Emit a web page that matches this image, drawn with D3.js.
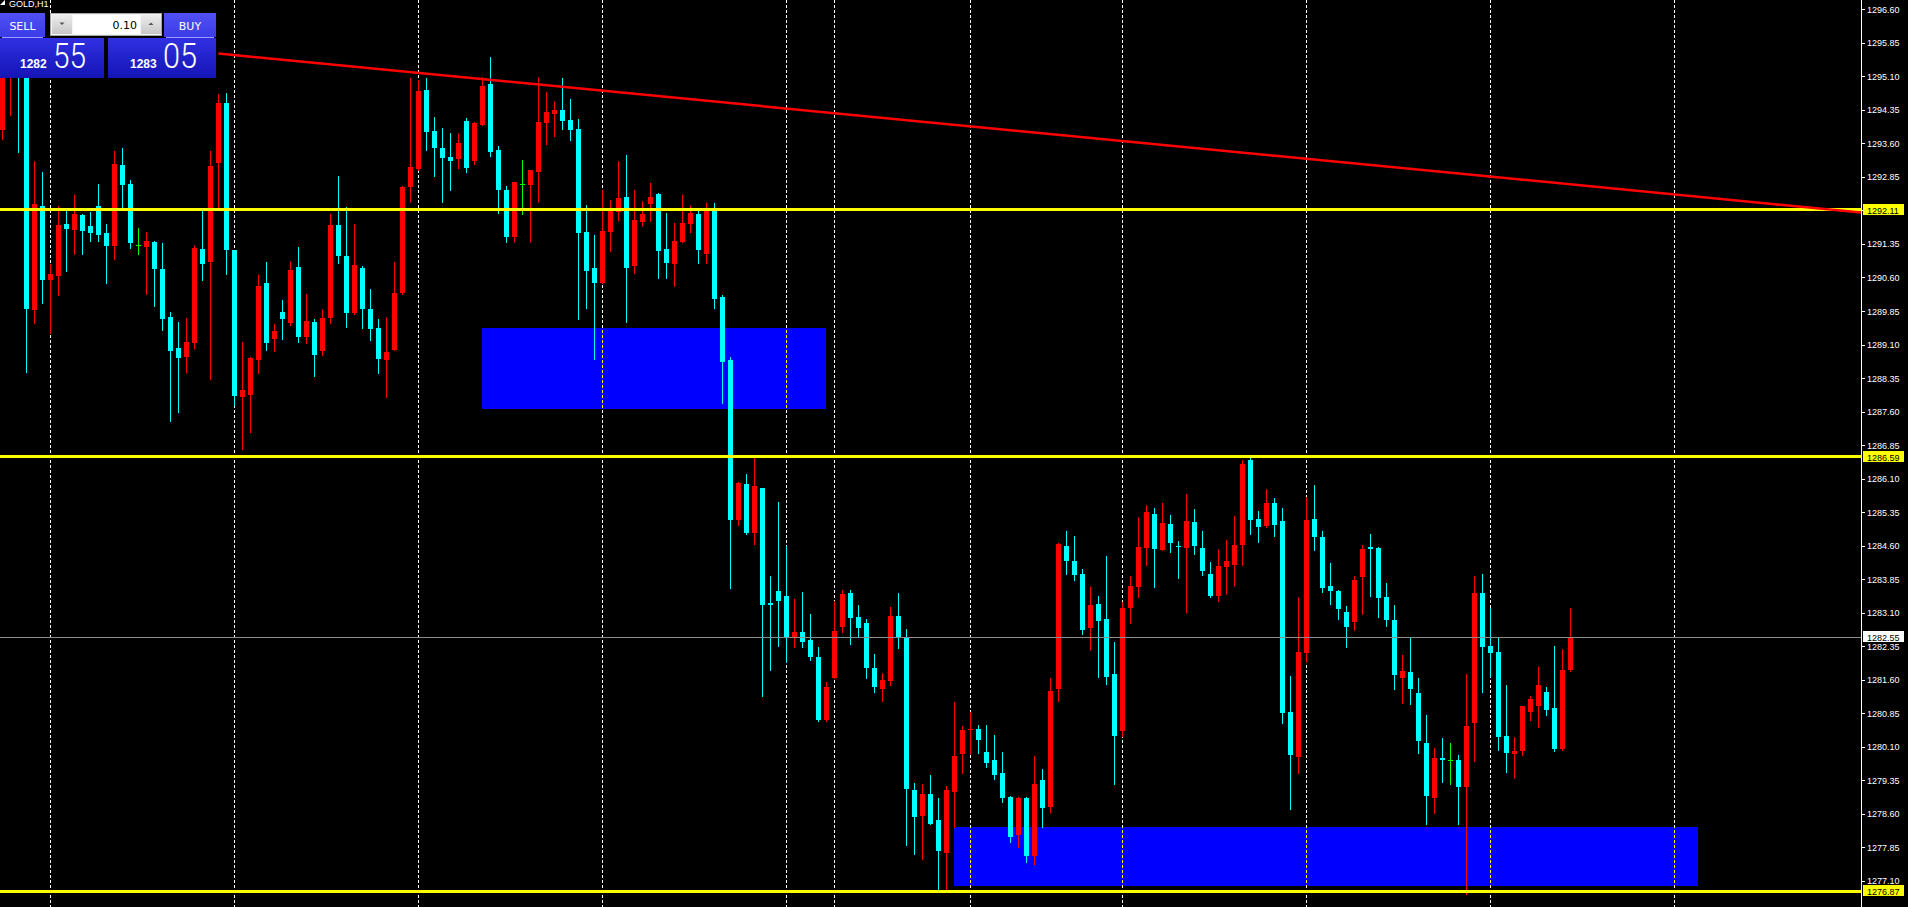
<!DOCTYPE html>
<html>
<head>
<meta charset="utf-8">
<script src="https://cdn.jsdelivr.net/npm/d3@7"></script>
<style>
html,body{margin:0;padding:0;background:#000;overflow:hidden}
svg{display:block}
</style>
</head>
<body>
<svg id="chart" width="1908" height="907"></svg>
<script>
// GOLD H1 bars, oldest first
const opens = [
1293.90,1295.11,1295.33,1295.24,1289.87,1292.20,1290.55,1290.64,1291.80,1291.66,
1292.00,1291.75,1292.20,1291.60,1291.31,1293.12,1292.69,1291.33,1291.28,1291.40,
1290.79,1289.72,1289.03,1288.82,1289.14,1291.24,1290.95,1293.16,1294.51,1291.22,
1287.93,1287.97,1288.76,1290.48,1289.23,1289.83,1289.58,1290.84,1289.27,1289.61,
1288.96,1289.70,1291.78,1291.08,1289.81,1290.82,1289.90,1289.47,1288.76,1288.98,
1290.26,1292.63,1293.03,1294.80,1293.88,1293.50,1293.30,1293.25,1294.10,1293.21,
1294.01,1294.93,1293.45,1292.56,1291.51,1292.69,1292.67,1292.96,1294.06,1294.26,
1294.35,1294.12,1293.92,1291.62,1290.82,1290.48,1291.62,1292.07,1292.40,1290.86,
1291.84,1292.25,1292.47,1291.24,1290.90,1291.40,1291.80,1292.02,1291.13,1292.09,
1290.17,1288.76,1285.18,1285.98,1284.89,1285.89,1283.32,1283.59,1283.48,1282.56,
1282.67,1282.49,1282.11,1280.70,1281.64,1282.78,1283.54,1283.01,1282.87,1281.87,
1281.40,1281.58,1283.03,1282.56,1279.14,1278.55,1279.05,1278.47,1277.73,1279.09,
1279.94,1280.48,1280.50,1279.98,1279.81,1279.52,1278.98,1278.13,1278.96,1277.66,
1279.36,1278.75,1281.40,1284.60,1284.26,1283.97,1282.76,1283.30,1282.96,1281.73,
1280.46,1283.21,1283.68,1284.55,1285.31,1284.51,1285.09,1284.60,1284.55,1285.13,
1284.55,1283.97,1283.48,1284.12,1284.17,1284.62,1286.52,1285.20,1285.04,1285.56,
1285.16,1280.88,1279.87,1282.20,1285.20,1284.80,1283.70,1283.59,1283.12,1282.89,
1283.90,1284.57,1284.55,1283.45,1282.94,1281.64,1281.78,1281.31,1280.19,1278.96,
1279.85,1279.81,1279.81,1279.20,1280.63,1283.54,1282.36,1282.22,1280.34,1279.94,
1280.01,1280.88,1281.02,1281.33,1280.97,1280.05,1281.82
];
const highs = [
1295.36,1295.42,1295.47,1295.38,1293.21,1292.96,1290.90,1292.20,1292.09,1292.45,
1292.02,1292.07,1292.69,1291.80,1293.43,1293.50,1292.78,1291.71,1291.62,1291.42,
1291.37,1289.83,1289.61,1289.70,1291.33,1292.09,1293.43,1294.71,1294.73,1291.22,
1289.16,1288.82,1290.66,1290.95,1289.56,1290.10,1290.97,1291.28,1290.23,1289.67,
1289.90,1292.02,1292.87,1292.18,1291.80,1290.86,1290.35,1289.67,1289.72,1290.95,
1292.65,1295.07,1295.02,1295.07,1294.19,1293.95,1293.83,1293.83,1294.17,1294.08,
1295.09,1295.54,1293.54,1292.65,1292.74,1293.23,1293.01,1295.09,1294.75,1294.55,
1295.07,1294.60,1294.15,1292.22,1291.55,1292.56,1292.34,1293.21,1293.34,1292.56,
1292.31,1292.72,1292.49,1292.05,1291.82,1292.45,1292.22,1292.09,1292.27,1292.27,
1290.21,1288.82,1286.03,1286.21,1286.56,1285.89,1283.92,1285.58,1284.60,1283.41,
1283.57,1283.07,1282.34,1281.55,1283.36,1283.61,1283.61,1283.28,1282.96,1282.18,
1281.75,1283.23,1283.54,1282.74,1279.29,1279.27,1279.47,1278.96,1279.23,1281.11,
1280.57,1280.88,1280.59,1280.59,1280.37,1279.98,1279.00,1278.98,1278.98,1279.90,
1279.60,1281.64,1284.66,1284.93,1284.82,1284.08,1283.68,1283.48,1284.37,1282.45,
1283.34,1283.92,1285.24,1285.51,1285.45,1285.56,1285.29,1284.71,1285.76,1285.42,
1284.93,1284.24,1284.53,1284.73,1285.27,1286.52,1286.56,1285.38,1285.87,1285.67,
1285.45,1281.69,1283.45,1285.69,1285.96,1284.93,1284.21,1283.61,1283.25,1283.92,
1284.62,1284.86,1284.57,1283.77,1283.28,1282.16,1282.54,1281.64,1280.81,1280.08,
1280.30,1280.19,1279.92,1281.73,1283.92,1283.97,1283.21,1282.56,1281.49,1280.32,
1281.02,1281.24,1281.89,1281.44,1282.36,1282.29,1283.21
];
const lows = [
1293.70,1294.24,1293.41,1288.49,1289.58,1290.03,1289.36,1290.21,1290.75,1291.13,
1291.13,1291.42,1291.42,1290.48,1291.02,1292.11,1291.26,1291.13,1290.23,1289.96,
1289.43,1287.39,1287.59,1288.49,1289.03,1290.55,1288.33,1292.18,1290.68,1287.75,
1286.77,1287.15,1288.47,1288.98,1288.96,1289.23,1289.54,1289.16,1289.14,1288.40,
1288.87,1289.58,1290.93,1289.50,1289.79,1289.47,1289.20,1288.47,1287.93,1288.98,
1290.23,1292.29,1293.01,1293.45,1292.87,1292.29,1292.56,1293.05,1292.96,1293.14,
1294.01,1293.32,1292.05,1291.40,1291.40,1292.02,1291.40,1292.29,1293.59,1293.77,
1293.92,1293.68,1289.67,1289.92,1288.78,1290.48,1291.20,1291.89,1289.61,1290.70,
1291.75,1291.87,1290.59,1290.59,1290.41,1291.40,1291.62,1290.93,1290.93,1289.92,
1287.80,1283.66,1285.07,1284.86,1284.64,1281.24,1281.82,1282.36,1282.00,1282.34,
1282.34,1282.05,1280.68,1280.68,1281.64,1282.67,1282.40,1282.56,1281.64,1281.33,
1281.13,1281.49,1282.31,1277.91,1277.71,1277.59,1278.38,1276.90,1276.90,1278.31,
1279.52,1279.94,1279.96,1279.65,1279.38,1278.87,1277.97,1277.86,1277.53,1277.48,
1278.31,1278.64,1281.13,1283.97,1283.83,1282.63,1282.27,1281.66,1281.51,1279.27,
1280.34,1282.87,1283.45,1284.17,1283.68,1284.51,1284.46,1283.88,1283.12,1284.42,
1283.95,1283.45,1283.36,1283.52,1283.70,1284.17,1284.86,1284.68,1285.02,1284.82,
1280.63,1278.71,1279.52,1282.00,1284.51,1283.57,1283.30,1282.96,1282.34,1282.72,
1283.07,1283.48,1283.01,1282.81,1281.40,1281.08,1281.06,1279.96,1278.38,1278.62,
1279.31,1279.27,1278.38,1276.81,1279.79,1281.33,1281.69,1280.03,1279.54,1279.40,
1279.92,1280.70,1280.55,1280.81,1280.01,1280.03,1281.80
];
const closes = [
1295.20,1295.29,1295.11,1289.90,1292.25,1290.55,1290.68,1291.78,1291.69,1292.02,
1291.64,1291.60,1291.55,1291.31,1293.14,1292.67,1291.37,1291.33,1291.42,1290.79,
1289.67,1288.96,1288.80,1289.16,1291.26,1290.90,1293.10,1294.51,1291.22,1287.95,
1288.09,1288.80,1290.41,1289.14,1289.41,1289.67,1290.77,1289.27,1289.63,1288.87,
1289.70,1291.78,1291.08,1289.81,1290.88,1289.90,1289.45,1288.78,1288.94,1290.26,
1292.63,1293.07,1294.77,1293.86,1293.50,1293.27,1293.21,1293.61,1293.05,1294.06,
1294.89,1293.41,1292.56,1291.51,1292.74,1292.69,1293.01,1294.08,1294.30,1294.35,
1294.10,1293.90,1291.60,1290.75,1290.48,1291.64,1292.09,1292.38,1290.82,1291.89,
1292.02,1292.40,1291.20,1290.93,1291.42,1291.82,1292.05,1291.22,1292.09,1290.12,
1288.71,1285.18,1286.00,1284.89,1285.94,1283.28,1283.28,1283.36,1282.54,1282.67,
1282.45,1282.11,1280.70,1281.44,1282.69,1283.52,1282.99,1282.76,1281.87,1281.44,
1281.60,1283.03,1282.56,1279.16,1278.53,1279.05,1278.38,1277.77,1279.14,1279.90,
1280.48,1280.50,1280.25,1279.74,1279.47,1278.96,1278.09,1278.96,1277.66,1279.27,
1278.73,1281.35,1284.64,1284.26,1283.94,1282.72,1283.28,1282.92,1281.66,1280.34,
1283.21,1283.70,1284.57,1285.36,1284.53,1285.11,1284.66,1284.57,1285.16,1284.60,
1284.04,1283.48,1284.15,1284.26,1284.62,1286.43,1285.18,1285.02,1285.56,1285.07,
1280.86,1279.92,1282.22,1285.18,1284.80,1283.66,1283.59,1283.19,1282.78,1283.83,
1284.53,1284.53,1283.43,1282.94,1281.71,1281.80,1281.40,1280.23,1279.00,1279.85,
1279.81,1279.81,1279.20,1280.57,1283.54,1282.34,1282.20,1280.32,1279.96,1280.01,
1281.02,1281.17,1281.49,1280.93,1280.05,1281.82,1282.55
];

// day separators (bar index)
const separatorBars = [6, 29, 52, 75, 98, 104, 121, 140, 163, 186, 209];

// price axis labels
const priceTicks = [
"1296.60","1295.85","1295.10","1294.35","1293.60","1292.85","1292.10","1291.35",
"1290.60","1289.85","1289.10","1288.35","1287.60","1286.85","1286.10","1285.35",
"1284.60","1283.85","1283.10","1282.35","1281.60","1280.85","1280.10","1279.35",
"1278.60","1277.85","1277.10"
];

// horizontal levels
const levelPrices = [1292.11, 1286.59, 1276.87];

// supply / demand zones
const zoneStart  = [60, 119];
const zoneEnd    = [103, 212];
const zoneTop    = [1289.47, 1278.31];
const zoneBottom = [1287.66, 1276.99];

// trend line anchors (bar index, price)
const trendBars   = [27, 232];
const trendPrices = [1295.61, 1292.06];

// quotes
const bidPrice = 1282.55;
const askPrice = 1283.05;
const lotSize  = "0.10";
const symbolLabel = "GOLD,H1";

// ---------------------------------------------------------------
const W = 1908, H = 907, axisX = 1861;
const svg = d3.select("#chart");
const defs = svg.append("defs");

const y = d3.scaleLinear().domain([1276.517, 1296.808]).range([H, 0]);
const x = d3.scaleLinear().domain([0, 232]).range([2.5, 1858.5]);

svg.append("rect").attr("width", W).attr("height", H).attr("fill", "#000");

defs.append("clipPath").attr("id", "plotClip")
  .append("rect").attr("x", 0).attr("y", 0).attr("width", axisX).attr("height", H);

const zones = zoneStart.map((s, k) => ({
  x0: Math.floor(x(s)), x1: Math.floor(x(zoneEnd[k])),
  y0: Math.round(y(zoneTop[k])), y1: Math.round(y(zoneBottom[k]))
}));

defs.append("clipPath").attr("id", "zoneClip")
  .selectAll("rect").data(zones).join("rect")
  .attr("x", d => d.x0).attr("y", d => d.y0)
  .attr("width", d => d.x1 - d.x0).attr("height", d => d.y1 - d.y0);

const plot = svg.append("g").attr("clip-path", "url(#plotClip)");

// separators
const sepLines = (g, color) => g.selectAll("line").data(separatorBars).join("line")
  .attr("x1", d => x(d)).attr("x2", d => x(d))
  .attr("y1", 0).attr("y2", H)
  .attr("stroke", color).attr("stroke-width", 1)
  .attr("stroke-dasharray", "3,2");

sepLines(plot.append("g").attr("shape-rendering", "crispEdges"), "#ffffff");

// zones
plot.append("g").attr("shape-rendering", "crispEdges")
  .selectAll("rect").data(zones).join("rect")
  .attr("x", d => d.x0).attr("y", d => d.y0)
  .attr("width", d => d.x1 - d.x0).attr("height", d => d.y1 - d.y0)
  .attr("fill", "#0000ff");

sepLines(plot.append("g").attr("shape-rendering", "crispEdges")
  .attr("clip-path", "url(#zoneClip)"), "#ffff00");

// candles
const bars = opens.map((o, i) => ({ i, o, h: highs[i], l: lows[i], c: closes[i] }));
const barColor = d => d.c > d.o ? "#ff0000" : (d.c < d.o ? "#00ffff" : "#00ff00");

const candles = plot.append("g").attr("shape-rendering", "crispEdges");
candles.selectAll("line").data(bars).join("line")
  .attr("x1", d => x(d.i)).attr("x2", d => x(d.i))
  .attr("y1", d => Math.round(y(d.h)))
  .attr("y2", d => Math.round(y(d.l)) + 1)
  .attr("stroke", barColor).attr("stroke-width", 1);

candles.selectAll("rect").data(bars).join("rect")
  .attr("x", d => x(d.i) - 2.5)
  .attr("width", 5)
  .attr("y", d => Math.round(y(Math.max(d.o, d.c))))
  .attr("height", d => Math.max(1, Math.round(y(Math.min(d.o, d.c))) - Math.round(y(Math.max(d.o, d.c)))))
  .attr("fill", barColor);

// levels
plot.append("g").attr("shape-rendering", "crispEdges")
  .selectAll("line").data(levelPrices).join("line")
  .attr("x1", 0).attr("x2", axisX)
  .attr("y1", d => y(d)).attr("y2", d => y(d))
  .attr("stroke", "#ffff00").attr("stroke-width", 3);

// trend line, extended to the price scale
const tx0 = x(trendBars[0]), ty0 = y(trendPrices[0]);
const tx1 = x(trendBars[1]), ty1 = y(trendPrices[1]);
const slope = (ty1 - ty0) / (tx1 - tx0);
plot.append("line")
  .attr("x1", tx0).attr("y1", ty0)
  .attr("x2", axisX).attr("y2", ty0 + slope * (axisX - tx0))
  .attr("stroke", "#ff0000").attr("stroke-width", 2.5);

// bid line
plot.append("line").attr("shape-rendering", "crispEdges")
  .attr("x1", 0).attr("x2", axisX)
  .attr("y1", y(bidPrice)).attr("y2", y(bidPrice))
  .attr("stroke", "#8c8c8c").attr("stroke-width", 1);

// price scale
const axis = svg.append("g").attr("font-family", "'Liberation Sans', Arial, sans-serif").attr("font-size", 9);
axis.append("line").attr("shape-rendering", "crispEdges")
  .attr("x1", axisX + 0.5).attr("x2", axisX + 0.5).attr("y1", 0).attr("y2", H)
  .attr("stroke", "#ffffff");

const tickG = axis.selectAll("g.tick").data(priceTicks).join("g").attr("class", "tick")
  .attr("transform", d => `translate(0,${y(+d)})`);
tickG.append("line").attr("shape-rendering", "crispEdges")
  .attr("x1", axisX + 1).attr("x2", axisX + 4).attr("y1", 0.5).attr("y2", 0.5)
  .attr("stroke", "#ffffff");
tickG.append("text").attr("x", axisX + 6).attr("y", 3.5)
  .attr("fill", "#ffffff").text(d => d);

// price tags
const tags = levelPrices.map(v => ({ v, bg: "#ffff00" })).concat([{ v: bidPrice, bg: "#ffffff" }]);
const tagG = axis.selectAll("g.tag").data(tags).join("g").attr("class", "tag")
  .attr("transform", d => `translate(0,${Math.round(y(d.v))})`);
tagG.append("rect").attr("x", axisX + 2).attr("y", -6).attr("width", 41).attr("height", 11)
  .attr("fill", d => d.bg);
tagG.append("text").attr("x", axisX + 6).attr("y", 3.5)
  .attr("fill", "#000").text(d => d.v.toFixed(2));

// symbol caption
const cap = svg.append("g");
cap.append("path").attr("d", "M0,5 L5,0 L5,5 Z").attr("fill", "#ffffff");
cap.append("text").attr("x", 9).attr("y", 6.5)
  .attr("font-family", "'Liberation Sans', Arial, sans-serif").attr("font-size", 9)
  .attr("fill", "#ffffff").text(symbolLabel);

// one-click trading panel
const grad = defs.append("linearGradient").attr("id", "quoteGrad")
  .attr("x1", 0).attr("y1", 0).attr("x2", 0).attr("y2", 1);
grad.append("stop").attr("offset", "0%").attr("stop-color", "#3030e2");
grad.append("stop").attr("offset", "100%").attr("stop-color", "#1414b6");

const btnGrad = defs.append("linearGradient").attr("id", "btnGrad")
  .attr("x1", 0).attr("y1", 0).attr("x2", 0).attr("y2", 1);
btnGrad.append("stop").attr("offset", "0%").attr("stop-color", "#5050f4");
btnGrad.append("stop").attr("offset", "100%").attr("stop-color", "#3c3ce8");

const spinGrad = defs.append("linearGradient").attr("id", "spinGrad")
  .attr("x1", 0).attr("y1", 0).attr("x2", 0).attr("y2", 1);
spinGrad.append("stop").attr("offset", "0%").attr("stop-color", "#ececec");
spinGrad.append("stop").attr("offset", "100%").attr("stop-color", "#c8c8c8");

const panel = svg.append("g").attr("shape-rendering", "crispEdges");
panel.append("rect").attr("x", 0).attr("y", 13).attr("width", 216).attr("height", 65).attr("fill", "#000");

// sell / buy buttons
[[0, 45, "SELL"], [164, 52, "BUY"]].forEach(([bx, bw, label]) => {
  panel.append("rect").attr("x", bx).attr("y", 13).attr("width", bw).attr("height", 24).attr("fill", "url(#btnGrad)");
  panel.append("line").attr("x1", bx + 2).attr("x2", bx + bw - 2).attr("y1", 37.5).attr("y2", 37.5)
    .attr("stroke", "#9a9aff");
  panel.append("text").attr("x", bx + bw / 2).attr("y", 30).attr("text-anchor", "middle")
    .attr("font-family", "'DejaVu Sans', sans-serif").attr("font-size", 11)
    .attr("fill", "#ffffff").attr("shape-rendering", "auto").text(label);
});

// lot spinner
panel.append("rect").attr("x", 50.5).attr("y", 13.5).attr("width", 111).attr("height", 22)
  .attr("fill", "#f4f4f4").attr("stroke", "#a8a8a8");
panel.append("rect").attr("x", 52).attr("y", 15).attr("width", 20).attr("height", 19).attr("fill", "url(#spinGrad)");
panel.append("rect").attr("x", 141).attr("y", 15).attr("width", 20).attr("height", 19).attr("fill", "url(#spinGrad)");
panel.append("rect").attr("x", 73).attr("y", 15).attr("width", 67).attr("height", 19).attr("fill", "#ffffff");
panel.append("path").attr("d", "M59.5,22.5 L64.5,22.5 L62,25 Z").attr("fill", "#555").attr("shape-rendering", "auto");
panel.append("path").attr("d", "M148.5,25 L153.5,25 L151,22.5 Z").attr("fill", "#555").attr("shape-rendering", "auto");
panel.append("text").attr("x", 137).attr("y", 29).attr("text-anchor", "end")
  .attr("font-family", "'DejaVu Sans', sans-serif").attr("font-size", 11)
  .attr("fill", "#000").text(lotSize);

// quote boxes
const quote = (bx, bw, price, smallX, bigX, bigW) => {
  const s = price.toFixed(2).split(".");
  panel.append("rect").attr("x", bx).attr("y", 38).attr("width", bw).attr("height", 40).attr("fill", "url(#quoteGrad)");
  panel.append("text").attr("x", smallX).attr("y", 68)
    .attr("font-family", "'Liberation Sans', Arial, sans-serif").attr("font-weight", "bold").attr("font-size", 12)
    .attr("fill", "#ffffff").text(s[0]);
  panel.append("text").attr("x", bigX).attr("y", 68)
    .attr("font-family", "Roboto, 'Open Sans', sans-serif").attr("font-weight", 300).attr("font-size", 35)
    .attr("textLength", bigW).attr("lengthAdjust", "spacingAndGlyphs")
    .attr("fill", "#ffffff").text(s[1]);
};
quote(0, 104, bidPrice, 20, 53, 33);
quote(108, 108, askPrice, 130, 163, 34);
</script>
</body>
</html>
